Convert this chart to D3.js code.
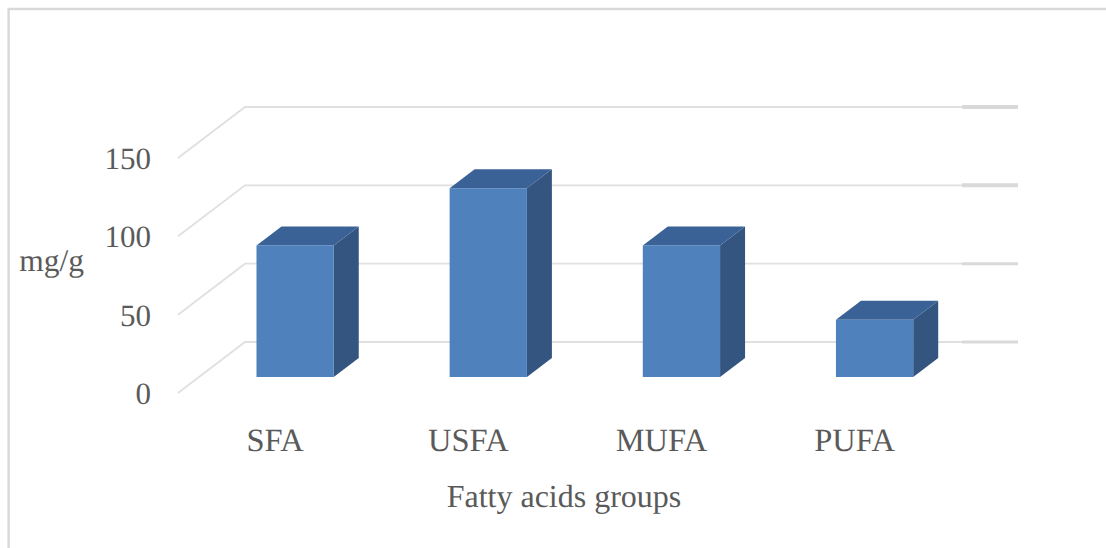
<!DOCTYPE html>
<html>
<head>
<meta charset="utf-8">
<script src="https://cdn.jsdelivr.net/npm/d3@7/dist/d3.min.js"></script>
<style>
html,body{margin:0;padding:0;background:#fff;}
svg{display:block;}
text{font-family:"Liberation Serif","Times New Roman",serif;fill:#5a5a5a;text-rendering:geometricPrecision;}
</style>
</head>
<body>
<svg id="chart" width="1106" height="548"></svg>
<script>
// Fatty acid group totals, mg/g
const categories = ["SFA", "USFA", "MUFA", "PUFA"];
const values = [84, 120.5, 84, 36.5];
const yTicks = [0, 50, 100, 150];
const yTitle = "mg/g";
const xTitle = "Fatty acids groups";

const svg = d3.select("#chart");

// Oblique projection of the 3D column chart
const barDepth = { dx: 25, dy: -19 };
const wallDepth = { dx: 67, dy: -51 };

const yFront = d3.scaleLinear().domain([0, 150]).range([377, 142]);
const yWall = d3.scaleLinear().domain([0, 150]).range([342, 107]);
const yFloor = d3.scaleLinear().domain([0, 150]).range([393, 158]);
const x = d3.scaleBand().domain(categories).range([208.2, 961.5]).paddingInner(0.6).paddingOuter(0.25);

// Chart frame
svg.append("path")
  .attr("d", d3.line()([[8.6, 548], [8.6, 9], [1106, 9]]))
  .attr("fill", "none").attr("stroke", "#d9d9d9").attr("stroke-width", 2.4);

// Gridlines on the side and back walls
const grid = svg.append("g").selectAll("g").data(yTicks).join("g");
grid.append("path")
  .attr("d", d => d3.line()([[245 - wallDepth.dx, yFloor(d)], [245, yWall(d)], [962, yWall(d)]]))
  .attr("fill", "none").attr("stroke", "#e0e0e0").attr("stroke-width", 1.8);
grid.append("line")
  .attr("x1", 962).attr("x2", 1018)
  .attr("y1", d => yWall(d)).attr("y2", d => yWall(d))
  .attr("stroke", "#d9d9d9").attr("stroke-width", d => d >= 100 ? 4 : 3);

// Columns: side, top and front faces
const col = svg.append("g").selectAll("g").data(categories).join("g");
const left = c => x(c);
const right = c => x(c) + x.bandwidth();
const barTop = i => yFront(values[i]);
const base = yFront(0);

col.append("path").attr("fill", "#33557f")
  .attr("d", (c, i) => d3.line()([
    [right(c), barTop(i)],
    [right(c) + barDepth.dx, barTop(i) + barDepth.dy],
    [right(c) + barDepth.dx, base + barDepth.dy],
    [right(c), base]
  ]) + "Z");
col.append("path").attr("fill", "#3a6296")
  .attr("d", (c, i) => d3.line()([
    [left(c), barTop(i)],
    [left(c) + barDepth.dx, barTop(i) + barDepth.dy],
    [right(c) + barDepth.dx, barTop(i) + barDepth.dy],
    [right(c), barTop(i)]
  ]) + "Z");
col.append("rect").attr("fill", "#4f81bd")
  .attr("x", c => left(c)).attr("width", x.bandwidth())
  .attr("y", (c, i) => barTop(i)).attr("height", (c, i) => base - barTop(i));

// Value axis labels
svg.append("g").selectAll("text").data(yTicks).join("text")
  .attr("x", 151).attr("y", d => yFloor(d) + 11)
  .attr("text-anchor", "end").attr("font-size", 31)
  .text(d => d);

// Category labels
svg.append("g").selectAll("text").data(categories).join("text")
  .attr("x", c => x(c) + x.bandwidth() / 2 - 20).attr("y", 451)
  .attr("text-anchor", "middle").attr("font-size", 32.5)
  .text(c => c);

// Axis titles
svg.append("text").attr("x", 51.7).attr("y", 271)
  .attr("text-anchor", "middle").attr("font-size", 31.5).text(yTitle);
svg.append("text").attr("x", 564).attr("y", 507)
  .attr("text-anchor", "middle").attr("font-size", 32).text(xTitle);
</script>
</body>
</html>
